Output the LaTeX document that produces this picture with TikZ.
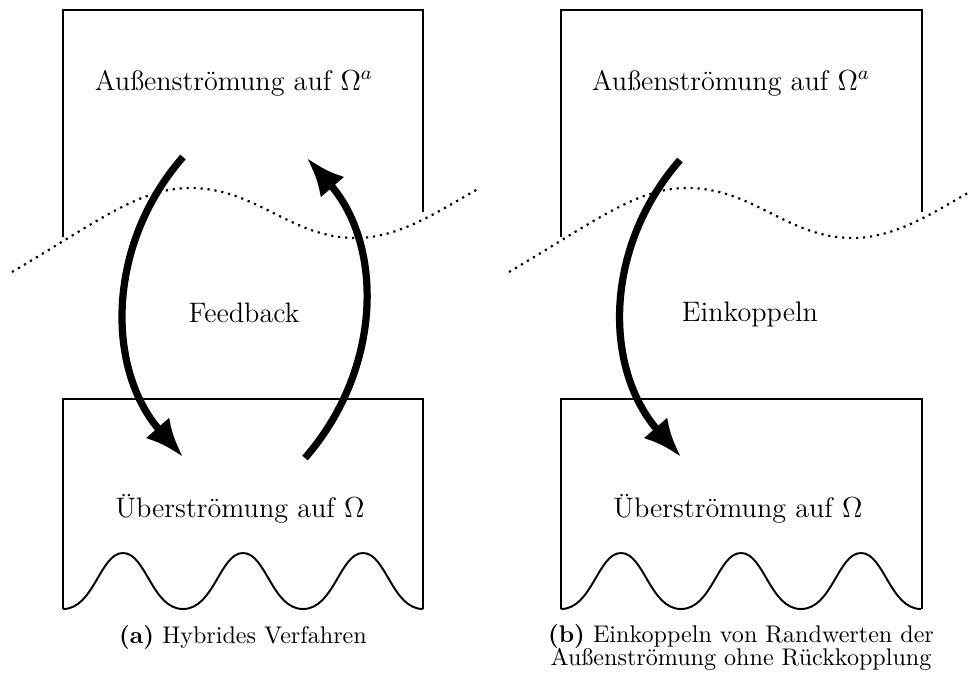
\documentclass[tikz,border=0pt]{standalone}
\usetikzlibrary{arrows.meta}
\tikzset{
  wand/.style={thick},
  grenze/.style={line width=0.9pt, dash pattern=on 0.9pt off 2pt},
  fluss/.style={line width=3pt, -{Latex[length=16pt,width=13pt]}},
  beschr/.style={font=\fontsize{11.7}{14}\selectfont, anchor=base, inner sep=0pt},
  unter/.style={font=\fontsize{10}{12}\selectfont, anchor=base, inner sep=0pt},
}
\begin{document}
\begin{tikzpicture}[x=0.415pt, y=-0.415pt]
\useasboundingbox (0,0) rectangle (969,679);
% (a) Hybrides Verfahren
\draw[wand] (63,237) -- (63,10) -- (423,10) -- (423,212);
\draw[wand] (63,609) -- (63,399) -- (423,399) -- (423,609);
\foreach \i in {0,1,2}
  \draw[wand] (63+120*\i,609) .. controls (94+120*\i,609) and (100+120*\i,553) .. (123+120*\i,553)
    .. controls (146+120*\i,553) and (152+120*\i,609) .. (183+120*\i,609);
\draw[grenze] (12,272) .. controls (100,220) and (140,188) .. (190,188)
  .. controls (257,188) and (290,238) .. (356,238)
  .. controls (400,238) and (440,210) .. (478,189);
\node[beschr] (aussenA) at (234,90) {Außenströmung auf $\Omega^a$};
\node[beschr] (ueberA) at (240,517) {Überströmung auf $\Omega$};
\node[beschr] (feedback) at (244,322) {Feedback};
\coordinate (hinA) at (183,157);
\coordinate (hinB) at (183,457);
\coordinate (rueckA) at (305,458);
\coordinate (rueckB) at (307,158);
\draw[fluss] (hinA) .. controls +(-77,88) and +(-77,-88) .. (hinB);
\draw[fluss] (rueckA) .. controls +(77,-88) and +(77,88) .. (rueckB);
\node[unter] (capA) at (243,643) {\textbf{(a)} Hybrides Verfahren};
% (b) Einkoppeln ohne Rueckkopplung
\draw[wand] (561,237) -- (561,10) -- (922,10) -- (922,212);
\draw[wand] (561,609) -- (561,399) -- (922,399) -- (922,609);
\foreach \i in {0,1,2}
  \draw[wand] (561+120*\i,609) .. controls (592+120*\i,609) and (598+120*\i,553) .. (621+120*\i,553)
    .. controls (644+120*\i,553) and (650+120*\i,609) .. (681+120*\i,609);
\draw[grenze] (509,272) .. controls (597,220) and (637,188) .. (687,188)
  .. controls (754,188) and (787,238) .. (853,238)
  .. controls (897,238) and (937,210) .. (975,189);
\node[beschr] (aussenB) at (731,90) {Außenströmung auf $\Omega^a$};
\node[beschr] (ueberB) at (738,517) {Überströmung auf $\Omega$};
\node[beschr] (einkoppeln) at (750,321) {Einkoppeln};
\coordinate (einA) at (680,160);
\coordinate (einB) at (681,457);
\draw[fluss] (einA) .. controls +(-77,88) and +(-77,-88) .. (einB);
\node[unter] (capB) at (741,642) {\textbf{(b)} Einkoppeln von Randwerten der};
\node[unter] (capBb) at (741,665) {Außenströmung ohne Rückkopplung};
\end{tikzpicture}
\end{document}
